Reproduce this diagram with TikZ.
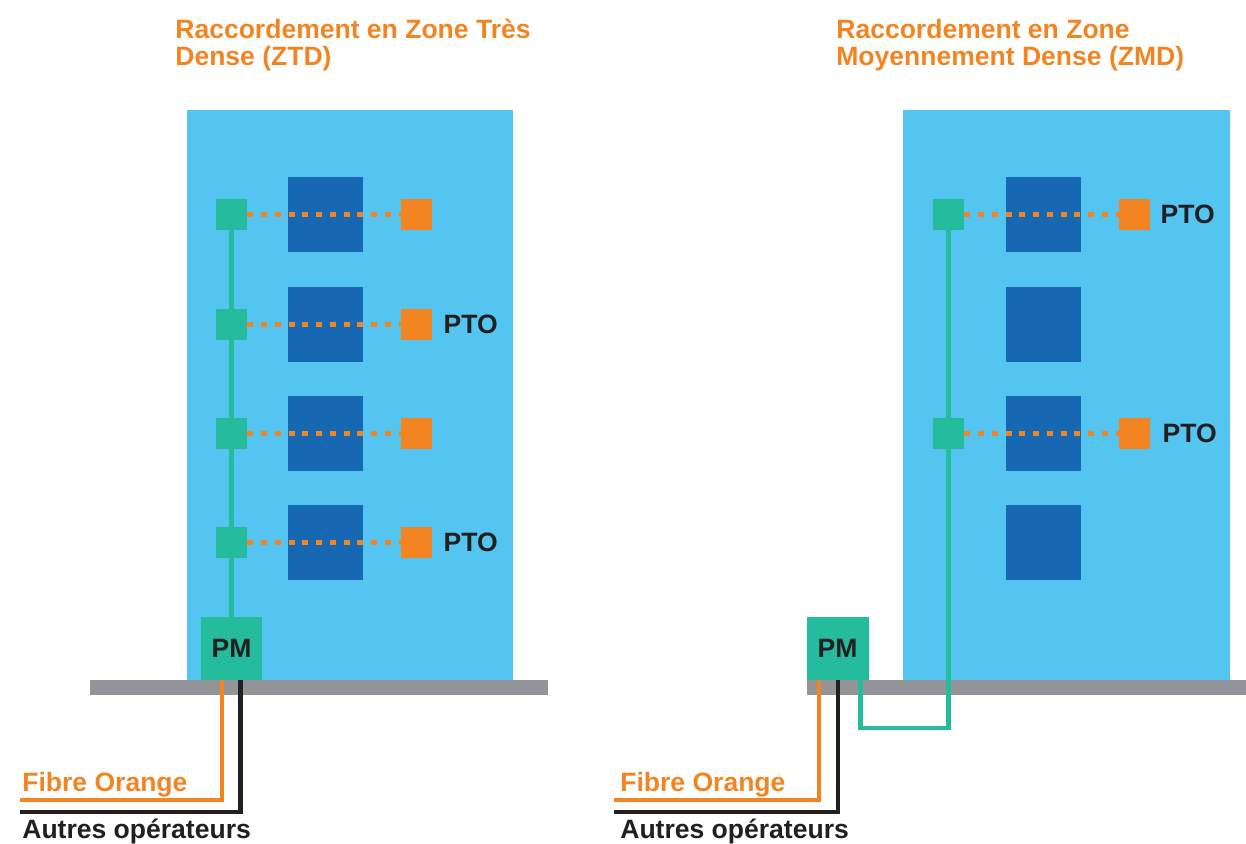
\documentclass[tikz,border=0pt]{standalone}
\usepackage{fontspec}
\setmainfont{Liberation Sans}
\usetikzlibrary{positioning}

\definecolor{ciel}{HTML}{54C4F0}
\definecolor{bleu}{HTML}{1668B3}
\definecolor{vert}{HTML}{24BC9C}
\definecolor{orangef}{HTML}{F28522}
\definecolor{sol}{HTML}{939498}
\definecolor{encre}{HTML}{231F20}

\begin{document}
\begin{tikzpicture}[x=0.02cm,y=-0.02cm,
  every node/.style={font=\fontsize{15.1}{15.4}\selectfont\bfseries,text=encre},
  etage/.style={fill=bleu,minimum size=1.5cm,inner sep=0pt},
  boite/.style={fill=vert,minimum size=0.62cm,inner sep=0pt},
  prise/.style={fill=orangef,minimum size=0.62cm,inner sep=0pt},
  pm/.style={fill=vert,minimum width=1.24cm,minimum height=1.26cm,inner sep=0pt},
  titre/.style={text=orangef,align=left,anchor=north west,inner sep=0pt},
  legende/.style={anchor=base west,inner sep=0pt},
  colonne/.style={draw=vert,line width=0.085cm},
  palier/.style={draw=orangef,line width=0.09cm,dash pattern=on 0.12cm off 0.155cm},
  fibre/.style={draw=orangef,line width=0.085cm},
  autre/.style={draw=encre,line width=0.085cm}]

\useasboundingbox (0,0) rectangle (1246,844);

% titres
\node[titre] (titreA) at (175,19) {Raccordement en Zone Très\\Dense (ZTD)};
\node[titre] (titreB) at (836,19) {Raccordement en Zone\\Moyennement Dense (ZMD)};

% immeubles et sol
\fill[ciel] (187,110) rectangle (513,680);
\fill[ciel] (903,110) rectangle (1230,680);
\fill[sol] (90,680) rectangle (548,695);
\fill[sol] (807,680) rectangle (1246,695);

% ZTD
\node[etage] (etA1) at (325.5,214.5) {};
\node[etage] (etA2) at (325.5,324.5) {};
\node[etage] (etA3) at (325.5,433.5) {};
\node[etage] (etA4) at (325.5,542.5) {};

\node[boite] (bA1) at (231.5,214.5) {};
\node[boite] (bA2) at (231.5,324.5) {};
\node[boite] (bA3) at (231.5,433.5) {};
\node[boite] (bA4) at (231.5,542.5) {};

\node[prise] (pA1) at (416.5,214.5) {};
\node[prise] (pA2) at (416.5,324.5) {};
\node[prise] (pA3) at (416.5,433.5) {};
\node[prise] (pA4) at (416.5,542.5) {};

\node[inner sep=0pt] (ptoA2) [right=0.22cm of pA2] {PTO};
\node[inner sep=0pt] (ptoA4) [right=0.22cm of pA4] {PTO};

\node[pm] (pmA) at (231.5,648.5) {PM};

\path[colonne] (bA1) -- (bA2) -- (bA3) -- (bA4) -- (pmA);
\path[palier] (bA1.east) -- (pA1.west)
              (bA2.east) -- (pA2.west)
              (bA3.east) -- (pA3.west)
              (bA4.east) -- (pA4.west);

\coordinate (finA1) at (20,800);
\coordinate (finA2) at (20,812);
\draw[fibre] ([xshift=-0.19cm]pmA.south) |- (finA1);
\draw[autre] ([xshift=0.18cm]pmA.south) |- (finA2);

\node[legende,text=orangef] (fibA) at (22,791) {Fibre Orange};
\node[legende] (autA) at (22,838) {Autres opérateurs};

% ZMD
\node[etage] (etB1) at (1043.5,214.5) {};
\node[etage] (etB2) at (1043.5,324.5) {};
\node[etage] (etB3) at (1043.5,433.5) {};
\node[etage] (etB4) at (1043.5,542.5) {};

\node[boite] (bB1) at (948.5,214.5) {};
\node[boite] (bB3) at (948.5,433.5) {};

\node[prise] (pB1) at (1134.5,214.5) {};
\node[prise] (pB3) at (1134.5,433.5) {};

\node[inner sep=0pt] (ptoB1) [right=0.2cm of pB1] {PTO};
\node[inner sep=0pt] (ptoB3) [right=0.24cm of pB3] {PTO};

\node[pm] (pmB) at (837.5,648.5) {PM};

\coordinate (coude) at (948.5,728);
\draw[colonne] ([xshift=0.46cm]pmB.south) |- (coude) -- (bB3) -- (bB1);
\path[palier] (bB1.east) -- (pB1.west)
              (bB3.east) -- (pB3.west);

\coordinate (finB1) at (614,800);
\coordinate (finB2) at (614,812);
\draw[fibre] ([xshift=-0.37cm]pmB.south) |- (finB1);
\draw[autre] ([xshift=0.01cm]pmB.south) |- (finB2);

\node[legende,text=orangef] (fibB) at (620,791) {Fibre Orange};
\node[legende] (autB) at (620,838) {Autres opérateurs};

\end{tikzpicture}
\end{document}
